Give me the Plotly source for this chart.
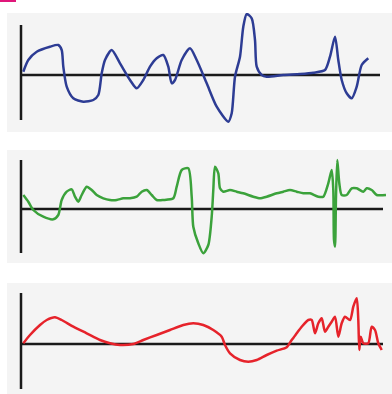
import plotly.graph_objects as go

# ---- data (t = time, v = signal value) ----
blue_t = [2.3, 7.3, 15.7, 29, 37.3, 40.7, 42.3, 45.7, 52.3, 62.3, 72.3, 77.3, 80.7, 84, 90.7, 99, 109,
          115.7, 122.3, 129, 135.7, 142.3, 147.3, 150.7, 154, 160.7, 169, 175.7, 185.7, 195.7, 207.3,
          210.7, 214, 219, 222.3, 225.7, 230.7, 234, 235.7, 240.7, 245.7, 262.3, 279, 292.3, 304, 309,
          314, 317.3, 320.7, 325.7, 330.7, 335.7, 340.7, 347.3]
blue_v = [3.3, 15, 23.3, 28.3, 30, 25, 8.3, -11.7, -23.3, -26.7, -25, -20, 1.7, 15, 25, 11.7, -5,
          -13.3, -5, 8.3, 16.7, 20, 8.3, -8.3, -5, 15, 26.7, 15, -8.3, -31.7, -46.7,
          -38.3, -1.7, 18.3, 48.3, 61, 56.7, 35, 8.3, 0, -1.7, 0, 1, 2.3, 5, 18.3,
          38.3, 15, -5, -18.3, -23.3, -11.7, 10, 16.7]

green_t = [2.3, 7.3, 12.3, 22.3, 32.3, 37.3, 40.7, 45.7, 50.7, 54, 57.3, 60.7, 65.7, 70.7, 75.7, 82.3,
           89, 95.7, 102.3, 109, 115.7, 120.7, 125.7, 130.7, 135.7, 142.3, 152.3, 155.7, 160.7, 167.3,
           170.7, 172.3, 177.3, 182.3, 187.3, 190.7, 192.3, 194, 197.3, 199, 202.3, 209, 215.7, 222.3,
           232.3, 239, 245.7, 255.7, 262.3, 269, 275.7, 282.3, 289, 297.3, 302.3, 307.3, 310.7, 312.3,
           313, 314, 315, 316.3, 318.3, 320.7, 325.7, 330.7, 335.7, 342.3, 345.7, 350.7, 355.7, 365]
green_v = [14, 7.3, -1, -7.7, -10.3, -6, 9, 17.3, 19.7, 12.3, 7.3, 14, 22.3, 19, 14, 10.7,
           9, 9, 10.7, 10.7, 12.3, 17.3, 19, 14, 9, 9, 10.7, 22.3, 39, 40.7,
           12.3, -17.7, -34.3, -44.3, -36, -7.7, 19, 42.3, 35.7, 20.7, 17.3, 19, 17.3, 15.7,
           12.3, 10.7, 12.3, 15.7, 17.3, 19, 17.3, 15.7, 15.7, 12.3, 12.3, 25.7, 39, 19,
           -31, -37.7, 12.3, 49, 25.7, 14, 14, 20.7, 20.7, 17.3, 20.7, 19, 14, 14]

red_t = [2.3, 9, 19, 25.7, 34, 40.7, 52.3, 65.7, 79, 89, 99, 112.3, 122.3, 135.7, 149, 162.3, 172.3,
         182.3, 192.3, 200.7, 204, 209, 219, 227.3, 235.7, 245.7, 255.7, 265.7, 270.7, 275.7, 280.7,
         287.3, 290.7, 294, 297.3, 300.7, 304, 307.3, 310.7, 314, 317.3, 320.7, 324, 329, 332.3,
         335.7, 337.3, 338.3, 339.7, 342.3, 347.3, 350.7, 354, 357.3, 360.7]
red_v = [0.7, 9, 19, 24, 26.7, 24, 17.3, 10.7, 4, 0.7, -1, 0, 4, 9, 14, 19, 20.7,
         19, 14, 7.3, -1, -9.3, -16, -17.7, -16, -11, -6.7, -3.3, 4, 10.7, 17.3,
         24, 24, 10.7, 20.7, 25.7, 12.3, 17.3, 22.3, 27.3, 7.3, 20.7, 27.3, 24, 37.3,
         45.7, 24, -6, 7.3, 0.7, 0.7, 17.3, 14, 0.7, -6]

series_names = ["blue", "green", "red"]
series_colors = ["#2d3c94", "#3ba23b", "#e6232b"]

# ---- layout geometry (pixels) ----
W, H = 392, 394
gray_x0 = 7
panels = [
    dict(top=13, bot=132, ax=75, vtop=25, vbot=120, hend=359),
    dict(top=150, bot=263, ax=209, vtop=160, vbot=253, hend=362),
    dict(top=283, bot=394, ax=344, vtop=293, vbot=389, hend=362),
]
data = [(blue_t, blue_v), (green_t, green_v), (red_t, red_v)]

fig = go.Figure()
x_origin_px = 21
x_range = [gray_x0 - x_origin_px, W - x_origin_px]

for i, (p, (t, v), color) in enumerate(zip(panels, data, series_colors)):
    n = i + 1
    xa = "x" if n == 1 else f"x{n}"
    ya = "y" if n == 1 else f"y{n}"
    fig.add_trace(go.Scatter(
        x=t, y=v, mode="lines", xaxis=xa, yaxis=ya,
        line=dict(color=color, width=2.5, shape="spline", smoothing=0.7),
        hoverinfo="skip", showlegend=False, name=series_names[i]))
    yr = [p["ax"] - p["bot"], p["ax"] - p["top"]]
    dom_y = [(H - p["bot"]) / H, (H - p["top"]) / H]
    axis_common = dict(showgrid=False, zeroline=False, showticklabels=False, ticks="",
                       showline=False, fixedrange=True)
    fig.update_layout(**{
        ("xaxis" if n == 1 else f"xaxis{n}"): dict(domain=[gray_x0 / W, 1], range=x_range,
                                                   anchor=ya, **axis_common),
        ("yaxis" if n == 1 else f"yaxis{n}"): dict(domain=dom_y, range=yr, anchor=xa,
                                                   **axis_common),
    })
    fig.add_shape(type="line", xref=xa, yref=ya, x0=0, x1=p["hend"], y0=0, y1=0,
                  line=dict(color="#1a1a1a", width=2.5), layer="below")
    fig.add_shape(type="line", xref=xa, yref=ya, x0=0, x1=0,
                  y0=p["ax"] - p["vbot"], y1=p["ax"] - p["vtop"],
                  line=dict(color="#1a1a1a", width=2.5), layer="below")

# small magenta mark at top-left
fig.add_shape(type="rect", xref="paper", yref="paper", x0=0, x1=16 / W, y0=1 - 2 / H, y1=1,
              fillcolor="#e0177a", line=dict(width=0))

fig.update_layout(width=W, height=H, margin=dict(l=0, r=0, t=0, b=0),
                  paper_bgcolor="white", plot_bgcolor="#f4f4f4", showlegend=False)

fig.write_html("out.html", config={"displayModeBar": False},
               post_script="document.body.style.margin='0';document.body.style.overflow='hidden';")
